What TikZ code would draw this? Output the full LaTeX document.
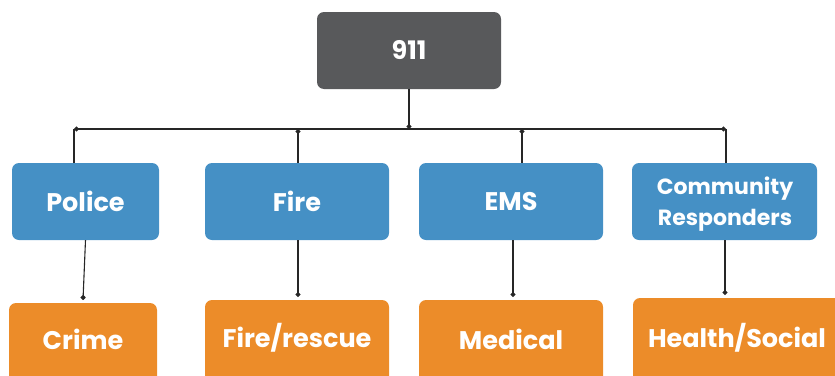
\documentclass[tikz,border=0pt]{standalone}
\usepackage{fontspec}
\setmainfont{Poppins}
\usetikzlibrary{arrows.meta}
\definecolor{topgray}{HTML}{58595B}
\definecolor{unitblue}{HTML}{4590C5}
\definecolor{typeorange}{HTML}{EC8C29}
\tikzset{
  box/.style={rounded corners=7pt, text=white, font=\bfseries\fontsize{25.5}{28}\selectfont, align=center, inner sep=0pt},
  link/.style={line width=1.1pt, black!85},
  jdot/.tip={Circle[length=5pt]}
}
\begin{document}
\begin{tikzpicture}[x=1pt,y=-1pt]
\useasboundingbox (0,0) rectangle (835,375);
\clip (0,0) rectangle (835,375);

% top
\node[box, fill=topgray, minimum width=184pt, minimum height=77pt] (top) at (409,50.5) {911};

% units
\node[box, fill=unitblue, minimum width=147pt, minimum height=77pt] (police) at (85.5,201.5) {Police};
\node[box, fill=unitblue, minimum width=184pt, minimum height=77pt] (fire) at (297,201.5) {Fire};
\node[box, fill=unitblue, minimum width=184pt, minimum height=77pt] (ems) at (511,201.5) {EMS};
\node[box, fill=unitblue, minimum width=185pt, minimum height=77pt, font=\bfseries\fontsize{22}{31}\selectfont] (comm) at (724.5,201.5) {};
\node[box, font=\bfseries\fontsize{22}{31}\selectfont] (commt) at (725,204) {Community\\Responders};

% call types
\node[box, fill=typeorange, minimum width=148pt, minimum height=90pt] (crime) at (83,348) {};
\node[box, fill=typeorange, minimum width=184pt, minimum height=90pt] (rescue) at (297,345) {};
\node[box, fill=typeorange, minimum width=184pt, minimum height=90pt] (medical) at (511,345) {};
\node[box, fill=typeorange, minimum width=210pt, minimum height=90pt] (health) at (738,343) {};
\node[box] (crimet) at (83,339) {Crime};
\node[box] (rescuet) at (297,338) {Fire/rescue};
\node[box] (medicalt) at (511,339) {Medical};
\node[box] (healtht) at (737,338) {Health/Social};

% bus
\coordinate (b1) at (74,129);
\coordinate (b2) at (298,129);
\coordinate (b3) at (522,129);
\coordinate (b4) at (726,129);
\draw[link, jdot-jdot] (b1) -- (b4);
\draw[link, -jdot] (top.south) -- (top.south |- b1);
\draw[link] (b1) -- (b1 |- police.north);
\draw[link, jdot-] (b2) -- (b2 |- fire.north);
\draw[link, jdot-] (b3) -- (b3 |- ems.north);
\draw[link] (b4) -- (b4 |- comm.north);

% down links
\coordinate (d1) at (83,300);
\coordinate (d2) at (298,297);
\coordinate (d3) at (513,297);
\coordinate (d4) at (725,295);
\draw[link, -jdot] (police.south) -- (d1);
\draw[link, -jdot] (d2 |- fire.south) -- (d2);
\draw[link, -jdot] (d3 |- ems.south) -- (d3);
\draw[link, -jdot] (d4 |- comm.south) -- (d4);
\end{tikzpicture}
\end{document}
